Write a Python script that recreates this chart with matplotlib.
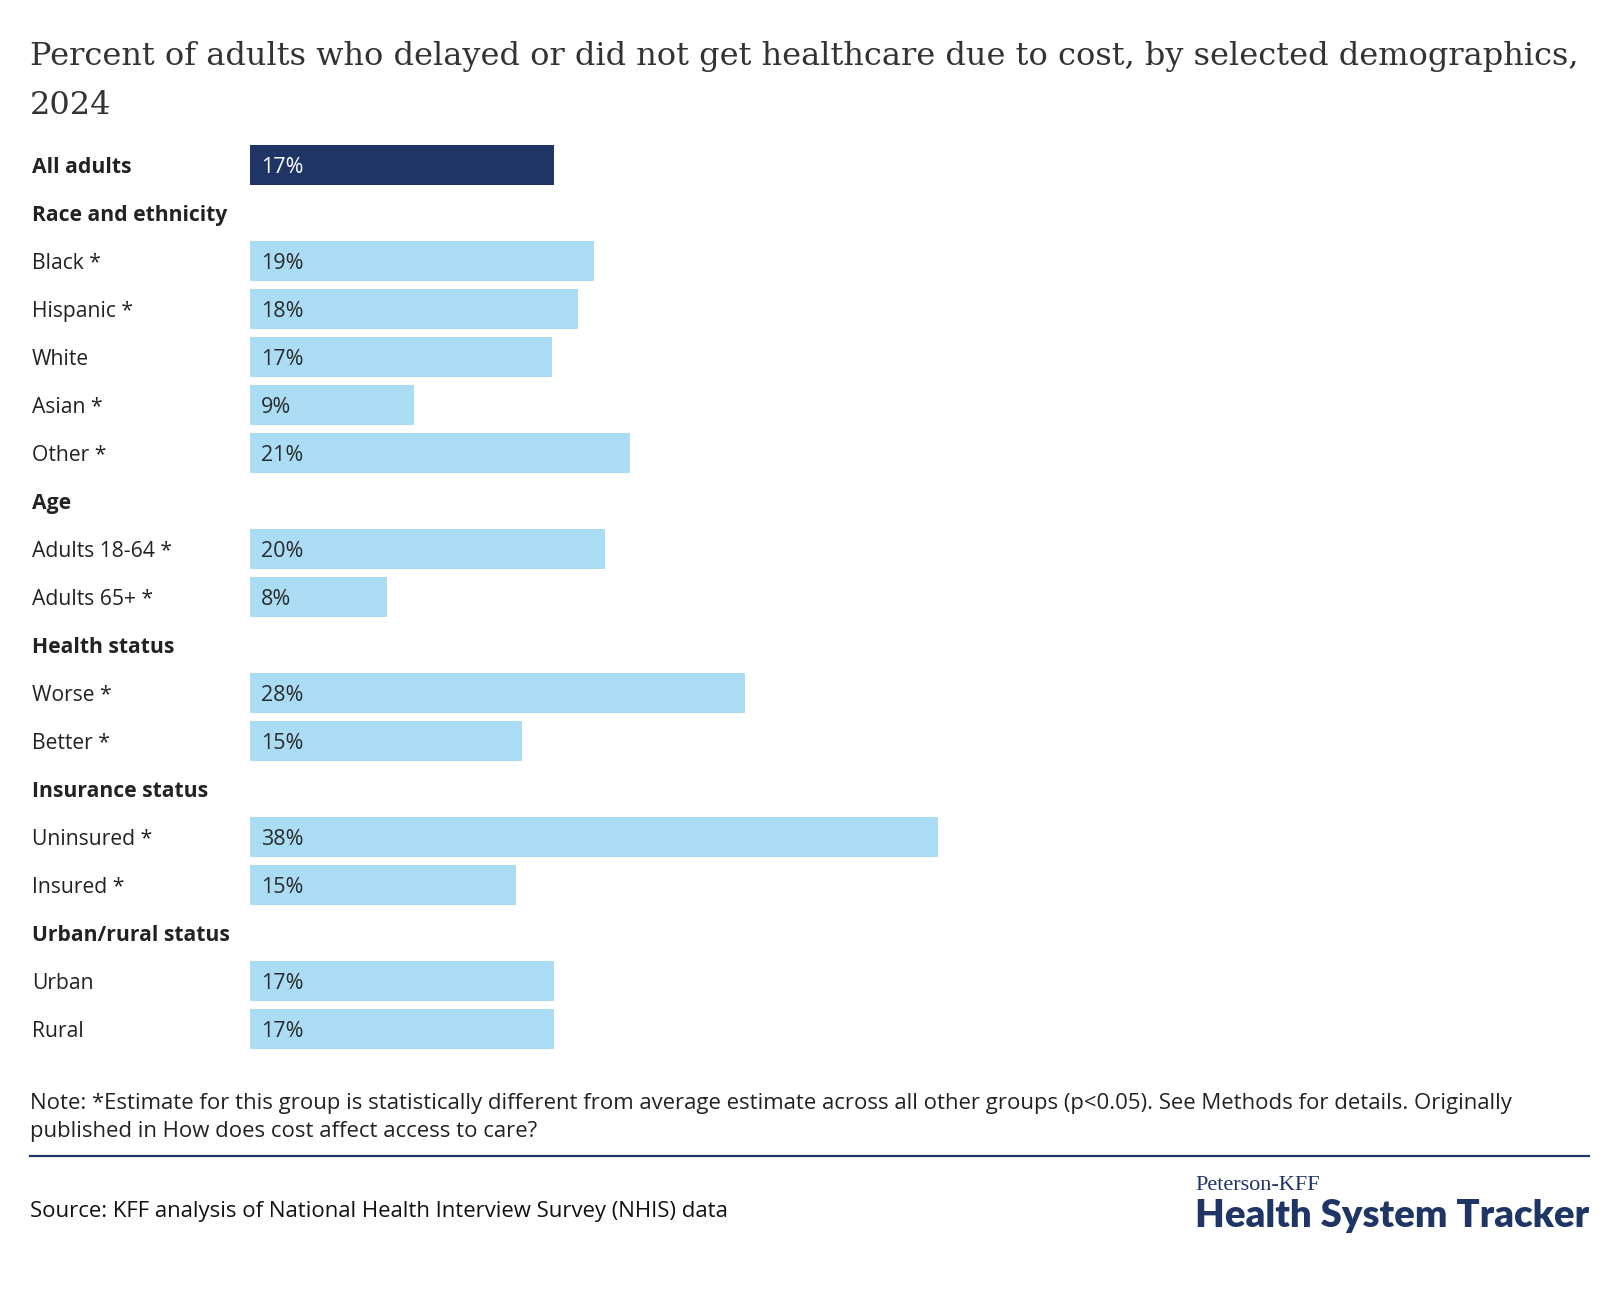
import numpy as np
import matplotlib.pyplot as plt
from matplotlib.transforms import blended_transform_factory

rows = ["All adults", "Race and ethnicity", "Black *", "Hispanic *", "White", "Asian *",
        "Other *", "Age", "Adults 18-64 *", "Adults 65+ *", "Health status", "Worse *",
        "Better *", "Insurance status", "Uninsured *", "Insured *", "Urban/rural status",
        "Urban", "Rural"]
values = [16.9, np.nan, 19.1, 18.2, 16.8, 9.1, 21.1, np.nan, 19.7, 7.6, np.nan, 27.5,
          15.1, np.nan, 38.2, 14.8, np.nan, 16.9, 16.9]
value_labels = ["17%", "", "19%", "18%", "17%", "9%", "21%", "", "20%", "8%", "", "28%",
                "15%", "", "38%", "15%", "", "17%", "17%"]
headers = ["All adults", "Race and ethnicity", "Age", "Health status",
           "Insurance status", "Urban/rural status"]

navy = "#1f3566"
light = "#aadcf4"
sans = ["Open Sans", "DejaVu Sans"]
serif = ["DejaVu Serif"]

W, H = 1620, 1294
fig = plt.figure(figsize=(W / 100, H / 100), dpi=100)
ax = fig.add_axes([250 / W, 1 - 1053 / H, 1340 / W, 912 / H])

y = np.arange(len(rows))
colors = [navy if r == "All adults" else light for r in rows]
ax.barh(y, np.nan_to_num(values), height=0.82, color=colors)
ax.set_xlim(0, 1340 / 18.0)
ax.set_ylim(len(rows) - 0.5, -0.5)
ax.axis("off")

tr = blended_transform_factory(fig.transFigure, ax.transData)
for i, r in enumerate(rows):
    bold = r in headers
    ax.text(32 / W, i, r, transform=tr, ha="left", va="center_baseline", fontsize=15.2,
            family=sans, fontweight="bold" if bold else "normal", color="#222222")
    if value_labels[i]:
        ax.text(0.6, i, value_labels[i], ha="left", va="center_baseline", fontsize=15.5,
                family=sans, color="white" if r == "All adults" else "#2b2b2b")

# title
fig.text(30 / W, 1 - 56 / H, "Percent of adults who delayed or did not get healthcare due to cost, by selected demographics,",
         fontsize=23, family=serif, color="#333333", va="center")
fig.text(30 / W, 1 - 105 / H, "2024", fontsize=23, family=serif, color="#333333", va="center")

# note and source
fig.text(30 / W, 1 - 1104 / H,
         "Note: *Estimate for this group is statistically different from average estimate across all other groups (p<0.05). See Methods for details. Originally",
         fontsize=15.9, family=sans, color="#222222", va="center")
fig.text(30 / W, 1 - 1132 / H, "published in How does cost affect access to care?",
         fontsize=15.9, family=sans, color="#222222", va="center")
fig.add_artist(plt.Line2D([30 / W, 1589 / W], [1 - 1156 / H, 1 - 1156 / H],
                          color=navy, linewidth=1.6))
fig.text(30 / W, 1 - 1212 / H, "Source: KFF analysis of National Health Interview Survey (NHIS) data",
         fontsize=15.9, family=sans, color="#111111", va="center")

# logo
fig.text(1195 / W, 1 - 1185 / H, "Peterson-KFF", fontsize=16, family=["Liberation Serif"],
         color=navy, va="center")
fig.text(1195 / W, 1 - 1216 / H, "Health System Tracker", fontsize=27.5, family=["Lato", "DejaVu Sans"],
         fontweight="heavy", color=navy, va="center")

fig.savefig("out.png", dpi=100, facecolor="white")
